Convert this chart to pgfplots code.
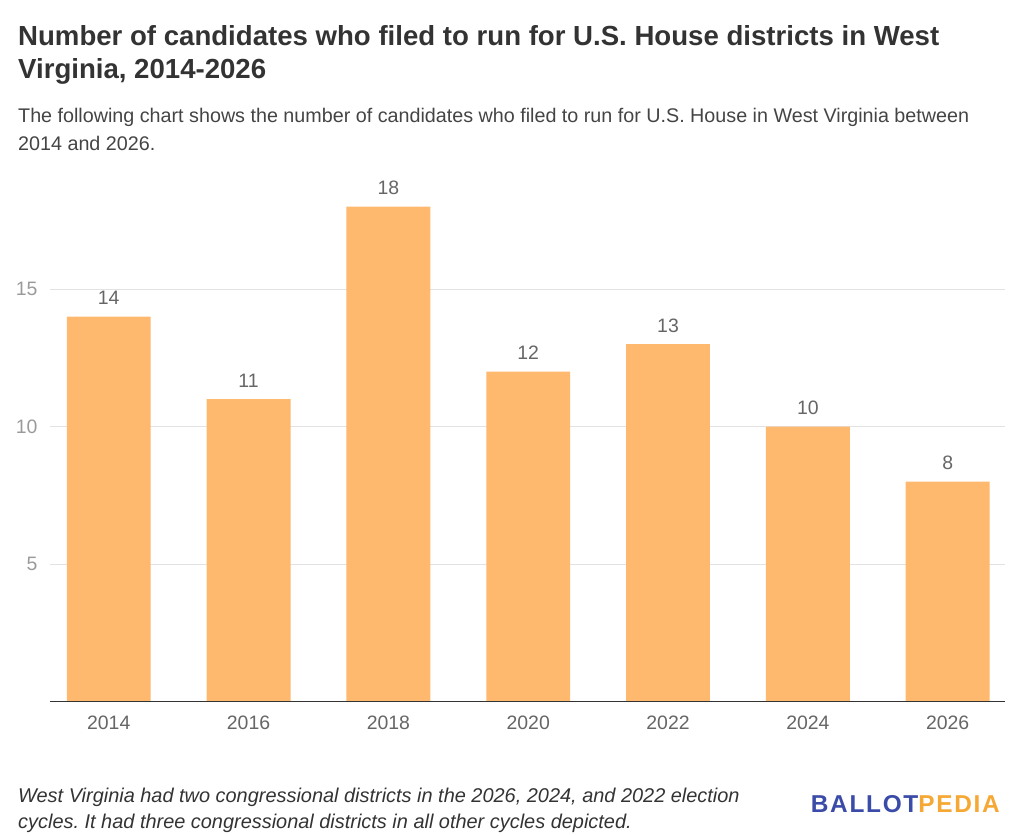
\documentclass[border=0pt]{standalone}
\usepackage{pgfplots}
\pgfplotsset{compat=1.18}
\usepackage{fontspec}
\setmainfont{Liberation Sans}
\frenchspacing

\definecolor{barorange}{HTML}{FFB96E}
\definecolor{titlegray}{HTML}{333333}
\definecolor{subgray}{HTML}{444444}
\definecolor{labelgray}{HTML}{666666}
\definecolor{tickgray}{HTML}{9A9A9A}
\definecolor{gridgray}{HTML}{E2E2E2}
\definecolor{ballotblue}{HTML}{3A4BA8}
\definecolor{ballotorange}{HTML}{F5A833}

\begin{document}
\begin{tikzpicture}[x=1bp,y=1bp]
\path[use as bounding box] (0,0) rectangle (1024,-836);

% title and subtitle
\node[anchor=base west, inner sep=0, text=titlegray, font=\bfseries\fontsize{27.7}{30}\selectfont] at (18,-45) {Number of candidates who filed to run for U.S. House districts in West};
\node[anchor=base west, inner sep=0, text=titlegray, font=\bfseries\fontsize{27.7}{30}\selectfont] at (18,-78) {Virginia, 2014-2026};
\node[anchor=base west, inner sep=0, text=subgray, font=\fontsize{19.8}{22}\selectfont] at (18,-122) {The following chart shows the number of candidates who filed to run for U.S. House in West Virginia between};
\node[anchor=base west, inner sep=0, text=subgray, font=\fontsize{19.8}{22}\selectfont] at (18,-150) {2014 and 2026.};

\begin{axis}[
  at={(50bp,-701.5bp)}, anchor=south west,
  scale only axis, width=955bp, height=522.5bp,
  xmin=-0.42, xmax=6.41, ymin=0, ymax=19,
  /pgf/number format/assume math mode=true,
  axis x line*=bottom, axis y line*=left,
  y axis line style={draw=none},
  x axis line style={draw=none},
  xtick={0,1,2,3,4,5,6},
  xticklabels={2014,2016,2018,2020,2022,2024,2026},
  ytick={5,10,15},
  yticklabels={5,10,15},
  major tick length=0pt,
  ymajorgrids, grid style={draw=gridgray, line width=1bp},
  xticklabel style={text=labelgray, font=\fontsize{19.5}{22}\selectfont, yshift=-11bp},
  yticklabel style={text=tickgray, font=\fontsize{19.5}{22}\selectfont, xshift=-9bp},
  clip=false,
]
\addplot[ybar, bar width=0.6, fill=barorange, draw=none,
  nodes near coords,
  every node near coord/.append style={text=labelgray, font=\fontsize{19.5}{22}\selectfont, yshift=8bp}]
  coordinates {(0,14) (1,11) (2,18) (3,12) (4,13) (5,10) (6,8)};
\end{axis}
\draw[titlegray, line width=1.5bp] (50,-701.5) -- (1005,-701.5);

% footnote
\node[anchor=base west, inner sep=0, text=titlegray, font=\itshape\fontsize{20}{22}\selectfont] at (18,-802) {West Virginia had two congressional districts in the 2026, 2024, and 2022 election};
\node[anchor=base west, inner sep=0, text=titlegray, font=\itshape\fontsize{20}{22}\selectfont] at (18,-828) {cycles. It had three congressional districts in all other cycles depicted.};

% logo
\node[anchor=base east, inner sep=0, font=\bfseries\fontsize{24.5}{25}\selectfont\addfontfeature{LetterSpace=7}] at (1000,-812) {\textcolor{ballotblue}{BALLOT}\textcolor{ballotorange}{PEDIA}};
\end{tikzpicture}
\end{document}
